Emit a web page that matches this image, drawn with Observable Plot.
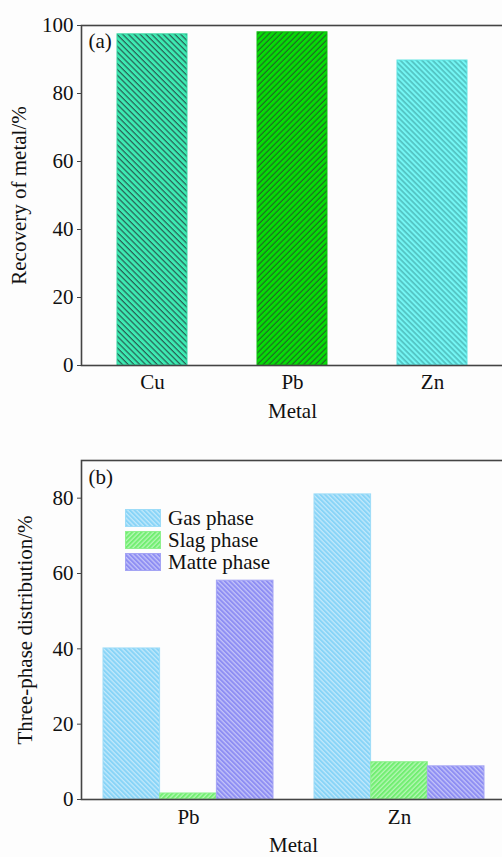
<!DOCTYPE html>
<html><head><meta charset="utf-8">
<script src="https://cdn.jsdelivr.net/npm/d3@7"></script>
<script src="https://cdn.jsdelivr.net/npm/@observablehq/plot@0.6"></script>
<style>
html,body{margin:0;padding:0;background:#fdfdfd;overflow:hidden;}
#wrap{position:relative;width:502px;height:857px;overflow:hidden;font-family:"Liberation Serif","Times New Roman",serif;}
#wrap svg{font-family:"Liberation Serif","Times New Roman",serif;color:#111;overflow:hidden;}
.panel{position:absolute;left:0;}
#legend{position:absolute;left:125px;top:507px;font-size:21px;line-height:22px;color:#111;font-family:"Liberation Serif",serif;}
.row{display:flex;align-items:center;height:22px;white-space:nowrap;}
.row svg{margin-right:7px;display:block;}
</style></head><body>
<svg width="0" height="0" style="position:absolute">
<defs>
<pattern id="pat-Cu" patternUnits="userSpaceOnUse" width="4.1" height="4.1" patternTransform="rotate(-45)">
 <rect width="4.1" height="4.1" fill="#3deab2"/>
 <line x1="1" y1="0" x2="1" y2="4.1" stroke="#25524a" stroke-width="1.1"/>
</pattern>
<pattern id="pat-Pb" patternUnits="userSpaceOnUse" width="4.1" height="4.1" patternTransform="rotate(45)">
 <rect width="4.1" height="4.1" fill="#06dc06"/>
 <line x1="1" y1="0" x2="1" y2="4.1" stroke="#24522a" stroke-width="1"/>
</pattern>
<pattern id="pat-Zn" patternUnits="userSpaceOnUse" width="3.8" height="3.8" patternTransform="rotate(-45)">
 <rect width="3.8" height="3.8" fill="#74f6f4"/>
 <line x1="1" y1="0" x2="1" y2="3.8" stroke="#3a9c9c" stroke-width="1"/>
</pattern>
<pattern id="pat-gas" patternUnits="userSpaceOnUse" width="3.3" height="3.3" patternTransform="rotate(-45)">
 <rect width="3.3" height="3.3" fill="#88d4f7"/>
 <line x1="1" y1="0" x2="1" y2="3.3" stroke="#c6ebfc" stroke-width="1.2"/>
</pattern>
<pattern id="pat-slag" patternUnits="userSpaceOnUse" width="3.3" height="3.3" patternTransform="rotate(45)">
 <rect width="3.3" height="3.3" fill="#72ee72"/>
 <line x1="1" y1="0" x2="1" y2="3.3" stroke="#baf8ba" stroke-width="1.2"/>
</pattern>
<pattern id="pat-matte" patternUnits="userSpaceOnUse" width="3.3" height="3.3" patternTransform="rotate(-45)">
 <rect width="3.3" height="3.3" fill="#8e8ef3"/>
 <line x1="1" y1="0" x2="1" y2="3.3" stroke="#c8c8fa" stroke-width="1.2"/>
</pattern>
</defs></svg>
<div id="wrap">
 <div id="a" class="panel" style="top:0"></div>
 <div id="b" class="panel" style="top:430px"></div>
 <div id="legend"></div>
</div>
<script>
// ---- data ----
const metalsA = ["Cu", "Pb", "Zn"];
const recovery = [97.4, 98.0, 89.7];
const yTicksA = [0, 20, 40, 60, 80, 100];

const metalsB = ["Pb", "Zn"];
const phases = ["Gas phase", "Slag phase", "Matte phase"];
const gasPhase = [40.1, 81.0];
const slagPhase = [1.6, 9.9];
const mattePhase = [58.1, 8.8];
const yTicksB = [0, 20, 40, 60, 80];

// ---- styling maps ----
const edgeA = {Cu: "#32d8a2", Pb: "#10c010", Zn: "#5ce4e2"};
const phaseKey = {"Gas phase": "gas", "Slag phase": "slag", "Matte phase": "matte"};
const edgeB = {gas: "#9ddcf8", slag: "#8ef08e", matte: "#a4a4f4"};
const baseStyle = "font-family: 'Liberation Serif', 'Times New Roman', serif; font-size: 21px; color: #111; background: transparent; overflow: hidden;";

// ---- panel (a) ----
const dataA = metalsA.map((m, i) => ({metal: m, value: recovery[i]}));
const plotA = Plot.plot({
  width: 502, height: 430,
  marginLeft: 81, marginRight: -1, marginTop: 25, marginBottom: 65,
  style: baseStyle,
  x: {domain: metalsA, paddingInner: 0.5, paddingOuter: 0.25},
  y: {domain: [0, 100]},
  color: {type: "identity"},
  marks: [
    Plot.barY(dataA, {x: "metal", y: "value", fill: d => `url(#pat-${d.metal})`, stroke: d => edgeA[d.metal], strokeWidth: 1}),
    Plot.frame({stroke: "#444", strokeWidth: 1.6}),
    Plot.axisY({ticks: yTicksA, tickSize: 4, tickPadding: 4, stroke: "#444", fontSize: 21, label: "Recovery of metal/%", labelAnchor: "center", labelOffset: 70, labelArrow: false}),
    Plot.axisX({tickSize: 0, tickPadding: 9, fontSize: 21, label: "Metal", labelAnchor: "center", labelOffset: 52, labelArrow: false}),
    Plot.text(["(a)"], {frameAnchor: "top-left", dx: 7, dy: 8, lineAnchor: "top", fontSize: 21})
  ]
});
document.getElementById("a").appendChild(plotA);

// ---- panel (b) ----
const seriesB = {"Gas phase": gasPhase, "Slag phase": slagPhase, "Matte phase": mattePhase};
const dataB = metalsB.flatMap((m, i) => phases.map(p => ({metal: m, phase: p, value: seriesB[p][i]})));
const padIn = 0.196, padOut = 0.1, wB = 502, mlB = 81, mrB = -3;
const bw = d3.scaleBand().domain(metalsB).range([mlB, wB - mrB]).paddingInner(padIn).paddingOuter(padOut).bandwidth();
const sub = bw / phases.length;

const plotB = Plot.plot({
  width: wB, height: 427,
  marginLeft: mlB, marginRight: mrB, marginTop: 30, marginBottom: 58,
  style: baseStyle,
  x: {domain: metalsB, paddingInner: padIn, paddingOuter: padOut},
  y: {domain: [0, 90]},
  marks: [
    ...phases.map((p, k) => Plot.barY(dataB.filter(d => d.phase === p), {
      x: "metal", y: "value",
      fill: `url(#pat-${phaseKey[p]})`, stroke: edgeB[phaseKey[p]], strokeWidth: 1,
      insetLeft: k * sub, insetRight: (phases.length - 1 - k) * sub
    })),
    Plot.frame({stroke: "#444", strokeWidth: 1.6}),
    Plot.axisY({ticks: yTicksB, tickSize: 4, tickPadding: 4, stroke: "#444", fontSize: 21, label: "Three-phase distribution/%", labelAnchor: "center", labelOffset: 64, labelArrow: false}),
    Plot.axisX({tickSize: 0, tickPadding: 10, fontSize: 21, label: "Metal", labelAnchor: "center", labelOffset: 52, labelArrow: false}),
    Plot.text(["(b)"], {frameAnchor: "top-left", dx: 7, dy: 9, lineAnchor: "top", fontSize: 21})
  ]
});
document.getElementById("b").appendChild(plotB);

// ---- legend (b) ----
const legend = d3.select("#legend");
phases.forEach(p => {
  const row = legend.append("div").attr("class", "row");
  const s = row.append("svg").attr("width", 36).attr("height", 18);
  s.append("rect").attr("x", 0.5).attr("y", 0.5).attr("width", 35).attr("height", 17)
    .attr("fill", `url(#pat-${phaseKey[p]})`).attr("stroke", edgeB[phaseKey[p]]);
  row.append("span").text(p);
});
</script>
</body></html>
